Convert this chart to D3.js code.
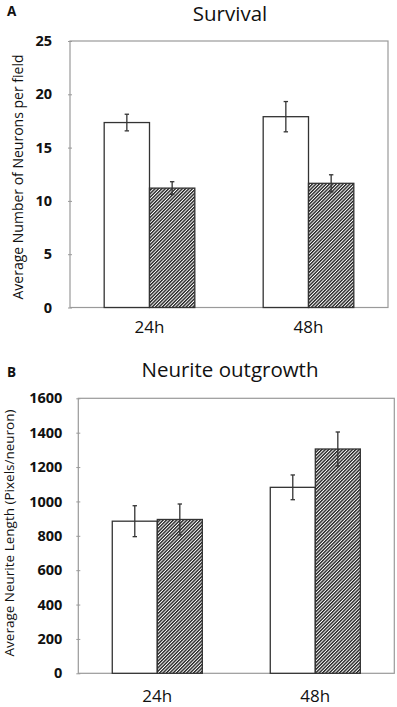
<!DOCTYPE html>
<html>
<head>
<meta charset="utf-8">
<script src="https://cdn.jsdelivr.net/npm/d3@7"></script>
<style>
body { margin: 0; background: #fff; }
svg { display: block; font-family: "Open Sans", sans-serif; }
</style>
</head>
<body>
<script>
var groups = ["24h", "48h"];

// panel A: survival
var survivalControl = [17.35, 17.9],
	survivalControlErr = [0.78, 1.42],
	survivalTreated = [11.2, 11.65],
	survivalTreatedErr = [0.6, 0.8],
	survivalTicks = [0, 5, 10, 15, 20, 25];

// panel B: neurite outgrowth
var outgrowthControl = [885, 1082],
	outgrowthControlErr = [90, 72],
	outgrowthTreated = [895, 1305],
	outgrowthTreatedErr = [90, 99],
	outgrowthTicks = [0, 200, 400, 600, 800, 1000, 1200, 1400, 1600];

var svg = d3.select('body')
	.append('svg')
	.attr('width', 397)
	.attr('height', 707);

// hatch fill
svg.append('defs').append('pattern')
	.attr('id', 'hatch')
	.attr('patternUnits', 'userSpaceOnUse')
	.attr('width', 2.4)
	.attr('height', 2.4)
	.attr('patternTransform', 'rotate(45)')
	.call(function(p) {
		p.append('rect').attr('width', 2.4).attr('height', 2.4).attr('fill', '#fff');
		p.append('line')
			.attr('x1', 0.7).attr('y1', 0)
			.attr('x2', 0.7).attr('y2', 2.4)
			.attr('stroke', '#1a1a1a')
			.attr('stroke-width', 1.35);
	});

function panel(opt) {
	var x = d3.scaleBand()
		.domain(groups)
		.range([opt.left, opt.right])
		.paddingInner(0.43)
		.paddingOuter(0.215);

	var sub = d3.scaleBand()
		.domain([0, 1])
		.range([0, x.bandwidth()]);

	var y = d3.scaleLinear()
		.domain([0, opt.max])
		.range([opt.bottom, opt.top]);

	var g = svg.append('g');

	// plot frame
	g.append('rect')
		.attr('x', opt.left)
		.attr('y', opt.top)
		.attr('width', opt.right - opt.left)
		.attr('height', opt.bottom - opt.top)
		.attr('fill', 'none')
		.attr('stroke', '#9a9a9a')
		.attr('stroke-width', 1.2);

	var yAxis = d3.axisLeft(y)
		.tickValues(opt.ticks)
		.tickFormat(d3.format('d'))
		.tickSize(3)
		.tickPadding(opt.tickPad);

	var ax = g.append('g')
		.attr('transform', 'translate(' + opt.left + ',0)')
		.call(yAxis);
	ax.select('.domain').remove();
	ax.selectAll('.tick line').attr('x2', 2).attr('x1', -2).attr('stroke', '#9a9a9a');
	ax.selectAll('.tick text')
		.attr('font-family', '"Open Sans", sans-serif')
		.attr('font-size', 14.5)
		.attr('font-weight', 'bold')
		.attr('fill', '#111');

	var series = [
		{vals: opt.control, errs: opt.controlErr, fill: '#fff'},
		{vals: opt.treated, errs: opt.treatedErr, fill: 'url(#hatch)'}
	];

	series.forEach(function(s, si) {
		var bars = g.selectAll('.bar' + si)
			.data(groups)
			.enter();

		bars.append('rect')
			.attr('x', function(d) { return x(d) + sub(si); })
			.attr('y', function(d, i) { return y(s.vals[i]); })
			.attr('width', sub.bandwidth())
			.attr('height', function(d, i) { return y(0) - y(s.vals[i]); })
			.attr('fill', s.fill)
			.attr('stroke', '#333')
			.attr('stroke-width', 1.3);

		// error bars
		var cx = function(d) { return x(d) + sub(si) + sub.bandwidth() / 2; };
		bars.append('line')
			.attr('x1', cx).attr('x2', cx)
			.attr('y1', function(d, i) { return y(s.vals[i] + s.errs[i]); })
			.attr('y2', function(d, i) { return y(s.vals[i] - s.errs[i]); })
			.attr('stroke', '#333').attr('stroke-width', 1.3);
		[1, -1].forEach(function(sign) {
			bars.append('line')
				.attr('x1', function(d) { return cx(d) - 2.2; })
				.attr('x2', function(d) { return cx(d) + 2.2; })
				.attr('y1', function(d, i) { return y(s.vals[i] + sign * s.errs[i]); })
				.attr('y2', function(d, i) { return y(s.vals[i] + sign * s.errs[i]); })
				.attr('stroke', '#333').attr('stroke-width', 1.3);
		});
	});

	// group labels
	g.selectAll('.grp')
		.data(groups)
		.enter().append('text')
		.attr('x', function(d) { return x(d) + x.bandwidth() / 2; })
		.attr('y', opt.labelY)
		.attr('text-anchor', 'middle')
		.attr('font-size', 17)
		.attr('fill', '#111')
		.text(function(d) { return d; });

	// title
	g.append('text')
		.attr('x', opt.titleX)
		.attr('y', opt.titleY)
		.attr('text-anchor', 'middle')
		.attr('font-size', 20.5)
		.attr('fill', '#111')
		.text(opt.title);

	// panel letter
	g.append('text')
		.attr('x', 7)
		.attr('y', opt.letterY)
		.attr('font-size', 13.5)
		.attr('font-weight', 'bold')
		.attr('fill', '#111')
		.text(opt.letter);

	// y title
	g.append('text')
		.attr('transform', 'translate(' + opt.yTitleX + ',' + opt.yTitleY + ') rotate(-90)')
		.attr('text-anchor', 'middle')
		.attr('font-size', opt.yTitleSize)
		.attr('fill', '#111')
		.text(opt.yTitle);
}

panel({
	left: 70, right: 388, top: 41, bottom: 307.5, max: 25,
	ticks: survivalTicks, tickPad: 15,
	control: survivalControl, controlErr: survivalControlErr,
	treated: survivalTreated, treatedErr: survivalTreatedErr,
	labelY: 333, title: 'Survival', titleX: 230, titleY: 20.5,
	letter: 'A', letterY: 15.5,
	yTitle: 'Average Number of Neurons per field', yTitleX: 22.5, yTitleY: 177, yTitleSize: 14
});

panel({
	left: 78.3, right: 394.3, top: 398.3, bottom: 673.3, max: 1600,
	ticks: outgrowthTicks, tickPad: 13,
	control: outgrowthControl, controlErr: outgrowthControlErr,
	treated: outgrowthTreated, treatedErr: outgrowthTreatedErr,
	labelY: 702, title: 'Neurite outgrowth', titleX: 230, titleY: 377,
	letter: 'B', letterY: 377,
	yTitle: 'Average Neurite Length (Pixels/neuron)', yTitleX: 14, yTitleY: 533, yTitleSize: 13.5
});
</script>
</body>
</html>
